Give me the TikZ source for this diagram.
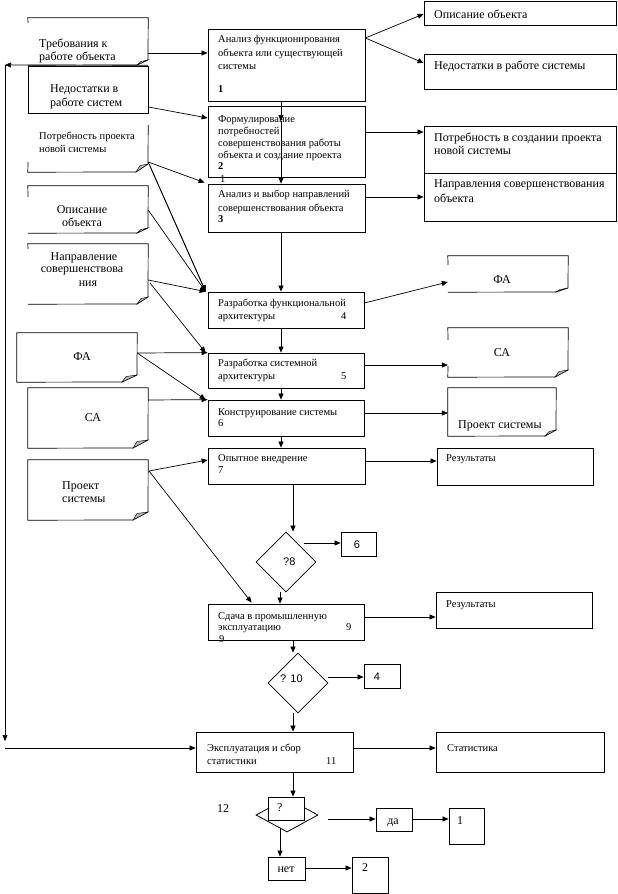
\documentclass[tikz,border=0pt]{standalone}
\usepackage{fontspec}
\setmainfont{Liberation Serif}
\setsansfont{Liberation Sans}
\usetikzlibrary{arrows.meta,shapes.geometric,calc}
\newcommand\boxat[5]{\node[box, minimum width={(#4-#2)*1pt}, minimum height={(#5-#3)*1pt}] (#1) at ({(#2+#4)/2},{(#3+#5)/2}) {};}
\newcommand\areaat[5]{\node[inner sep=0pt, minimum width={(#4-#2)*1pt}, minimum height={(#5-#3)*1pt}] (#1) at ({(#2+#4)/2},{(#3+#5)/2}) {};}
\newcommand\docfold[4]{%
  \draw[ln] (#1,#2-#4) -- (#1-#3,#2);
  \filldraw[fill=black!30, line width=0.4pt] (#1-#3,#2) -- (#1,#2-#4) -- (#1-#3+4,#2-#4+1.5) -- cycle;}
\begin{document}
\begin{tikzpicture}[x=1pt,y=-1pt,
  box/.style={draw, line width=0.8pt, inner sep=0pt, fill=white},
  ln/.style={line width=0.7pt},
  arr/.style={ln, -{Triangle[length=6pt,width=5pt]}},
  sm/.style={inner sep=0pt, anchor=base west, font=\fontsize{10.5}{12}\selectfont},
  lg/.style={inner sep=0pt, anchor=base west, font=\fontsize{12}{14}\selectfont},
  lgc/.style={lg, anchor=base},
  ss/.style={inner sep=0pt, anchor=base west, font=\sffamily\fontsize{11}{13}\selectfont},
  ssc/.style={ss, anchor=base}]
\fill[white] (0,0) rectangle (618,894);
\useasboundingbox (0,0) rectangle (618,894);

% ---------- left documents ----------
\areaat{dReq}{28}{18}{148}{65}
\draw[ln] (28,23) -- (dReq.north west) -- (dReq.north east) -- (148,60);
\docfold{148}{65}{11}{5}
\draw[ln] (137,65) -- (dReq.south west);

\boxat{dNed}{28}{66}{148}{113}

\areaat{dPot}{28}{125}{148}{172}
\draw[ln] (dPot.north east) -- (148,164);
\docfold{148}{172}{12}{8}
\draw[ln] (136,172) -- (dPot.south west) -- (28,162);

\areaat{dOpis}{28}{186}{148}{233}
\draw[ln] (28,197) -- (dOpis.north west) -- (dOpis.north east) -- (148,228);
\docfold{148}{233}{11}{5}
\draw[ln] (137,233) -- (dOpis.south west);

\areaat{dNapr}{28}{244}{148}{304}
\draw[ln] (28,249) -- (dNapr.north west) -- (dNapr.north east) -- (148,297);
\docfold{148}{304}{11}{7}
\draw[ln] (137,304) -- (dNapr.south west);

\areaat{dFA}{17}{333}{137}{382}
\draw[ln] (122,382) -- (dFA.south west) -- (dFA.north west) -- (dFA.north east) -- (137,375);
\docfold{137}{382}{15}{7}

\areaat{dCA}{28}{388}{148}{448}
\draw[ln] (133,448) -- (dCA.south west) -- (dCA.north west) -- (dCA.north east) -- (148,440);
\docfold{148}{448}{15}{8}

\areaat{dProj}{28}{460}{148}{520}
\draw[ln] (133,520) -- (dProj.south west) -- (dProj.north west) -- (dProj.north east) -- (148,512);
\docfold{148}{520}{15}{8}

% ---------- right documents ----------
\areaat{rFA}{448}{256}{568}{292}
\draw[ln] (448,265) -- (rFA.north west) -- (rFA.north east) -- (568,288);
\docfold{568}{292}{12}{4}
\draw[ln] (556,292) -- (rFA.south west);

\areaat{rCA}{448}{328}{568}{377}
\draw[ln] (448,340) -- (rCA.north west) -- (rCA.north east) -- (568,370);
\docfold{568}{377}{13}{7}
\draw[ln] (555,377) -- (rCA.south west) -- (448,366);

\areaat{rProj}{448}{388}{556}{436}
\draw[ln] (545,436) -- (rProj.south west) -- (rProj.north west) -- (rProj.north east) -- (556,430);
\docfold{556}{436}{11}{6}

% ---------- main column ----------
\boxat{b1}{208}{29}{365}{101}
\boxat{b2}{208}{106}{365}{177}
\boxat{b3}{208}{184}{365}{232}
\boxat{b4}{208}{292}{364}{328}
\boxat{b5}{208}{353}{364}{388}
\boxat{b6}{208}{400}{364}{436}
\boxat{b7}{208}{448}{365}{484}
\node[box, diamond, minimum width=60pt, minimum height=60pt] (d8) at (286,562) {};
\boxat{b6s}{341}{532}{376}{556}
\boxat{b9}{208}{604}{364}{640}
\node[box, diamond, minimum width=60pt, minimum height=60pt] (d10) at (298,683) {};
\boxat{b4s}{364}{664}{400}{688}
\boxat{b11}{196}{732}{353}{772}
\node[box, diamond, minimum width=62pt, minimum height=34pt] (d12) at (287,815) {};
\boxat{q12}{268}{797}{304}{820}
\boxat{bDa}{376}{808}{412}{831}
\boxat{bOne}{449}{808}{484}{844}
\boxat{bNet}{268}{857}{305}{880}
\boxat{bTwo}{352}{857}{388}{893}

% ---------- right boxes ----------
\boxat{rOpis}{424}{1}{616}{25}
\boxat{rNed}{424}{54}{616}{89}
\boxat{rPot}{424}{126}{616}{173}
\boxat{rNapr}{424}{173}{616}{221}
\boxat{rRes7}{437}{448}{593}{485}
\boxat{rRes9}{436}{592}{592}{628}
\boxat{rStat}{436}{732}{604}{772}

% ---------- texts ----------
\node[lg] (tq1) at (39,47) {Требования к};
\node[lg] (tq2) at (39,60) {работе объекта};
\node[lg] (tn1) at (50,92) {Недостатки в};
\node[lg] (tn2) at (50,106) {работе систем};
\node[sm] (tp1) at (39,139) {Потребность проекта};
\node[sm] (tp2) at (39,152) {новой системы};
\node[lgc] (to1) at (82,213) {Описание};
\node[lgc] (to2) at (82,226) {объекта};
\node[lgc] (tnp1) at (84,260) {Направление};
\node[lgc] (tnp2) at (82,272) {совершенствова};
\node[lgc] (tnp3) at (88,286) {ния};
\node[lgc] (tfa) at (82,360) {ФА};
\node[lgc] (tca) at (93,421) {СА};
\node[lg] (tpr1) at (62,489) {Проект};
\node[lg] (tpr2) at (62,502) {системы};

\node[sm] (t1a) at (218,42) {Анализ функционирования};
\node[sm] (t1b) at (218,56) {объекта или существующей};
\node[sm] (t1c) at (218,69) {системы};
\node[sm] (t1d) at (218,92) {\textbf{1}};
\node[sm] (t2a) at (218,122) {Формулирование};
\node[sm] (t2b) at (218,134) {потребностей};
\node[sm] (t2c) at (218,146) {совершенствования работы};
\node[sm] (t2d) at (218,158) {объекта и создание проекта};
\node[sm] (t2e) at (218,169) {\textbf{2}};
\node[sm] (t2f) at (220,182) {1};
\node[sm] (t3a) at (218,197) {Анализ и выбор направлений};
\node[sm] (t3b) at (218,211) {совершенствования объекта};
\node[sm] (t3c) at (218,222) {\textbf{3}};
\node[sm] (t4a) at (218,306) {Разработка функциональной};
\node[sm] (t4b) at (218,319) {архитектуры};
\node[sm] (t4c) at (341,319) {4};
\node[sm] (t5a) at (218,366) {Разработка системной};
\node[sm] (t5b) at (218,379) {архитектуры};
\node[sm] (t5c) at (341,379) {5};
\node[sm] (t6a) at (218,415) {Конструирование системы};
\node[sm] (t6b) at (218,426) {6};
\node[sm] (t7a) at (218,461) {Опытное внедрение};
\node[sm] (t7b) at (218,473) {7};
\node[ss] (t8) at (283,565) {?8};
\node[ssc] (t6s) at (357,548) {6};
\node[sm] (t9a) at (218,619) {Сдача в промышленную};
\node[sm] (t9b) at (218,630) {эксплуатацию};
\node[sm] (t9c) at (346,630) {9};
\node[sm] (t9d) at (219,642) {9};
\node[ss] (t10) at (280,682) {? 10};
\node[ssc] (t4s) at (377,680) {4};
\node[sm] (t11a) at (207,751) {Эксплуатация и сбор};
\node[sm] (t11b) at (207,764) {статистики};
\node[sm] (t11c) at (326,764) {11};
\node[lg] (t12) at (217,812) {12};
\node[lg] (tq) at (277,811) {?};
\node[lgc] (tda) at (393,824) {да};
\node[lg] (tone) at (457,824) {1};
\node[lgc] (tnet) at (286,872) {нет};
\node[lg] (ttwo) at (362,871) {2};

\node[lg] (tro) at (434,18) {Описание объекта};
\node[lg] (trn) at (434,69) {Недостатки в работе системы};
\node[lg] (trp1) at (434,141) {Потребность в создании проекта};
\node[lg] (trp2) at (434,154) {новой системы};
\node[lg] (trn1) at (434,187) {Направления совершенствования};
\node[lg] (trn2) at (434,202) {объекта};
\node[lgc] (trfa) at (502,283) {ФА};
\node[lgc] (trca) at (502,356) {СА};
\node[lg] (trpr) at (458,428) {Проект системы};
\node[sm] (tr7) at (446,461) {Результаты};
\node[sm] (tr9) at (446,607) {Результаты};
\node[sm] (trs) at (447,751) {Статистика};

% ---------- connectors ----------
\coordinate (fbA) at (5,65);
\coordinate (fbB) at (5,741);
\coordinate (fbC) at (5,748);
\draw[arr] (dReq.south east) -- (fbA);
\draw[arr] (fbA) -- (fbB);
\draw[arr] (fbC) -- (b11.west |- fbC);

\draw[arr] (dReq.east |- 0,53) -- (b1.west |- 0,53);
\draw[arr] (dNed.east |- 0,107) -- (b2.west |- 0,118);
\coordinate (pPot) at (dPot.east |- 0,162);
\coordinate (pPot2) at (150,166);
\coordinate (b4in) at ($(b4.north west)+(-2,0)$);
\draw[arr] (pPot) -- ($(b3.north west)+(-3,-1)$);
\draw[arr] (pPot) -- (b4in);
\draw[arr] (pPot2) -- (b4in);
\draw[arr] (dOpis.east |- 0,210) -- (b4in);
\coordinate (pNap) at (dNapr.east |- 0,280);
\coordinate (pNap2) at (150,283);
\draw[arr] (pNap) -- (b4in);
\draw[arr] (pNap2) -- ($(b5.north west)+(-2,0)$);
\coordinate (pFA) at (dFA.east |- 0,353);
\draw[arr] (pFA) -- (b5.north west);
\draw[arr] (pFA) -- ($(b6.north west)+(-2,0)$);
\draw[arr] (dCA.east |- 0,400) -- (b6.north west);
\coordinate (pPr) at (149,471);
\draw[arr] (pPr) -- (b7.west |- 0,460);
\draw[arr] (pPr) -- ($(b9.north west)+(44,-1)$);

\coordinate (b1o) at (b1.east |- 0,38);
\draw[arr] (b1o) -- (rOpis.west |- 0,14);
\draw[arr] (b1o) -- (rNed.west |- 0,63);
\draw[arr] (b2.east |- 0,132) -- (rPot.west |- 0,132);
\draw[arr] (b3.east |- 0,197) -- (rNapr.west |- 0,197);
\draw[arr] (b4.east |- 0,303) -- (rFA.west |- 0,282);
\draw[arr] (b5.east |- 0,365) -- (rCA.west |- 0,365);
\draw[arr] (b6.east |- 0,413) -- (rProj.west |- 0,413);
\draw[arr] (b7.east |- 0,461) -- (rRes7.west |- 0,461);
\draw[arr] (b9.east |- 0,617) -- (rRes9.west |- 0,617);
\draw[arr] (b11.east |- 0,748) -- (rStat.west |- 0,748);

\coordinate (m2) at (281,121);
\draw[arr] (b1.south -| m2) -- (m2);
\draw[arr] (m2) -- (b3.north -| m2);
\draw[arr] (b3.south -| m2) -- (b4.north -| m2);
\draw[arr] (b4.south -| m2) -- (b5.north -| m2);
\draw[arr] (b5.south -| m2) -- (b6.north -| m2);
\draw[arr] (b6.south -| m2) -- (b7.north -| m2);
\draw[arr] (b7.south -| 293,0) -- (d8.north -| 293,0);
\coordinate (d8o) at (304,543);
\draw[arr] (d8o) -- (b6s.west |- d8o);
\draw[arr] (d8.south -| 280,0) -- (b9.north -| 280,0);
\draw[arr] (b9.south -| 293,0) -- (d10.north -| 293,0);
\draw[arr] (d10.east |- 0,677) -- (b4s.west |- 0,677);
\draw[arr] (d10.south -| 293,0) -- (b11.north -| 293,0);
\draw[arr] (b11.south -| 293,0) -- (q12.north -| 293,0);
\coordinate (d12o) at (328,819);
\draw[arr] (d12o) -- (bDa.west |- d12o);
\draw[arr] (bDa.east |- d12o) -- (bOne.west |- d12o);
\coordinate (d12n) at (280,828);
\draw[arr] (d12n) -- (bNet.north -| d12n);
\draw[arr] (bNet.east |- 0,868) -- (bTwo.west |- 0,868);
\end{tikzpicture}
\end{document}
